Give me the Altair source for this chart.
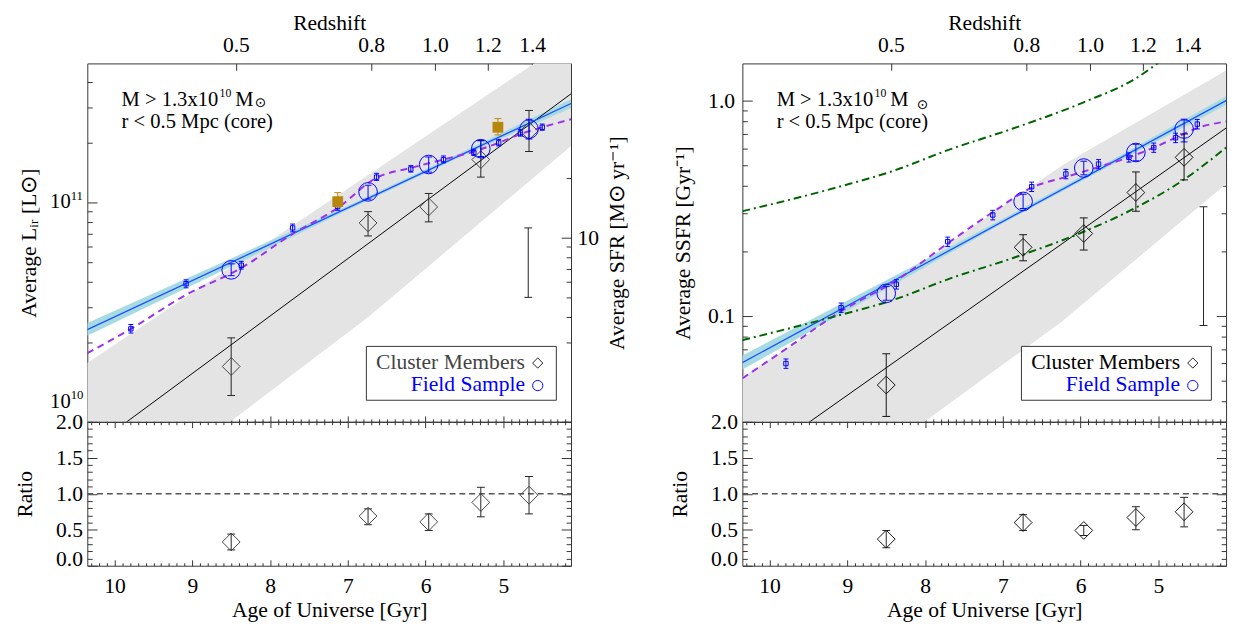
import altair as alt
import pandas as pd

FONT = "Liberation Serif"
FS = 22
W, H, HR = 494, 366, 147

BLUE = "#0000ff"
LINEBLUE = "#1f4fff"
CYAN = "#a6dbe3"
GRAY = "#e4e4e4"
PURPLE = "#9b30f0"
GREEN = "#006400"
BROWN = "#b8860b"

# ---------------- tick values ----------------
z_tick_age = [8.44, 6.70, 5.88, 5.20, 4.63]
z_tick_lab = ["0.5", "0.8", "1.0", "1.2", "1.4"]
age_major = [10, 9, 8, 7, 6, 5]
age_minor = [round(k / 10, 1) for k in range(42, 104) if k % 10 != 0]
lir_major = [1e10, 1e11]
lir_major_base = ["10", "10"]
lir_major_exp = ["10", "11"]
lir_minor = [8e9, 9e9, 2e10, 3e10, 4e10, 5e10, 6e10, 7e10, 8e10, 9e10, 2e11, 3e11, 4e11]
sfr_major = [10]
sfr_minor = [3, 4, 5, 6, 7, 8, 9, 20, 30, 40, 50, 60, 70]
LIR_PER_SFR = 6.67e9
ssfr_major = [0.1, 1.0]
ssfr_minor = [0.04, 0.05, 0.06, 0.07, 0.08, 0.09, 0.2, 0.3, 0.4, 0.5, 0.6, 0.7, 0.8, 0.9]
ratio_major = [0.0, 0.5, 1.0, 1.5, 2.0]
ratio_minor = [0.1, 0.2, 0.3, 0.4, 0.6, 0.7, 0.8, 0.9, 1.1, 1.2, 1.3, 1.4, 1.6, 1.7, 1.8, 1.9]

# ---------------- data: shared ages ----------------
bin_age = [8.50, 6.74, 5.96, 5.29, 4.67]
fine_age = [9.79, 9.08, 8.37, 7.71, 7.13, 6.63, 6.19, 5.77, 5.38, 5.06, 4.78, 4.50]

# ---------------- left panel: L_IR ----------------
field_lir = [4.6e10, 1.13e11, 1.55e11, 1.86e11, 2.33e11]
field_lir_lo = [4.3e10, 1.04e11, 1.42e11, 1.70e11, 2.08e11]
field_lir_hi = [4.93e10, 1.22e11, 1.69e11, 2.04e11, 2.61e11]
clus_lir = [1.51e10, 7.9e10, 9.5e10, 1.64e11, 2.28e11]
clus_lir_lo = [1.08e10, 6.8e10, 8.0e10, 1.34e11, 1.80e11]
clus_lir_hi = [2.1e10, 9.0e10, 1.11e11, 2.04e11, 2.89e11]
fine_lir = [2.33e10, 3.92e10, 4.85e10, 7.46e10, 9.55e10, 1.34e11, 1.47e11, 1.64e11, 1.78e11, 1.99e11, 2.23e11, 2.38e11]
fine_lir_lo = [2.22e10, 3.74e10, 4.64e10, 7.13e10, 9.14e10, 1.29e11, 1.42e11, 1.58e11, 1.72e11, 1.92e11, 2.15e11, 2.30e11]
fine_lir_hi = [2.45e10, 4.10e10, 5.07e10, 7.80e10, 9.98e10, 1.40e11, 1.53e11, 1.71e11, 1.85e11, 2.07e11, 2.32e11, 2.47e11]
purple_age = [10.35, 9.79, 9.08, 8.37, 7.71, 7.13, 6.63, 6.19, 5.77, 5.38, 5.06, 4.78, 4.50, 4.13]
purple_lir = [1.76e10, 2.33e10, 3.45e10, 4.7e10, 6.96e10, 9.4e10, 1.33e11, 1.49e11, 1.64e11, 1.80e11, 1.99e11, 2.2e11, 2.38e11, 2.61e11]
blue_age = [10.35, 4.13]
blue_lir = [2.31e10, 3.13e11]
cyan_age = [10.35, 8.5, 7.0, 5.5, 4.13]
cyan_lir_lo = [2.15e10, 4.78e10, 9.17e10, 1.73e11, 2.97e11]
cyan_lir_hi = [2.49e10, 5.25e10, 9.62e10, 1.81e11, 3.29e11]
black_age = [10.35, 4.13]
black_lir = [5.7e9, 3.5e11]
grayb_age = [10.35, 8.51, 6.72, 4.13]
grayb_lir_lo = [2.1e9, 8.0e9, 2.7e10, 1.92e11]
grayb_lir_hi = [1.57e10, 4.74e10, 1.39e11, 6.6e11]
brown_age = [7.13, 5.07]
brown_lir = [1.01e11, 2.38e11]
brown_lir_lo = [9.5e10, 2.18e11]
brown_lir_hi = [1.12e11, 2.63e11]
sys_lir_age = [4.68]
sys_lir_lo = [3.35e10]
sys_lir_hi = [7.46e10]

# ---------------- right panel: SSFR ----------------
field_ssfr = [0.127, 0.340, 0.486, 0.574, 0.738]
field_ssfr_lo = [0.118, 0.315, 0.452, 0.525, 0.643]
field_ssfr_hi = [0.137, 0.367, 0.523, 0.627, 0.82]
clus_ssfr = [0.0476, 0.208, 0.241, 0.374, 0.545]
clus_ssfr_lo = [0.034, 0.180, 0.202, 0.306, 0.428]
clus_ssfr_hi = [0.0665, 0.238, 0.285, 0.466, 0.70]
fine_ssfr = [0.0599, 0.109, 0.140, 0.221, 0.294, 0.398, 0.456, 0.507, 0.545, 0.605, 0.672, 0.778]
fine_ssfr_lo = [0.0569, 0.1036, 0.133, 0.210, 0.279, 0.378, 0.433, 0.482, 0.518, 0.575, 0.638, 0.739]
fine_ssfr_hi = [0.0629, 0.1145, 0.147, 0.232, 0.309, 0.418, 0.479, 0.532, 0.572, 0.635, 0.706, 0.817]
purple_ssfr = [0.0511, 0.070, 0.105, 0.146, 0.217, 0.303, 0.394, 0.442, 0.491, 0.545, 0.605, 0.672, 0.746, 0.80]
blue_ssfr = [0.0605, 1.0]
cyan_ssfr_lo = [0.0562, 0.133, 0.269, 0.526, 0.955]
cyan_ssfr_hi = [0.0652, 0.146, 0.282, 0.555, 1.047]
black_ssfr = [0.0193, 0.746]
grayb_s_age = [10.35, 8.0, 6.24, 4.13]
grayb_ssfr_lo = [0.0072, 0.0323, 0.094, 0.41]
grayb_ssfr_hi = [0.052, 0.182, 0.50, 1.38]
green_lo_age = [10.35, 9.08, 8.42, 7.7, 6.88, 5.97, 5.29, 4.67, 4.13]
green_lo = [0.077, 0.101, 0.118, 0.148, 0.185, 0.245, 0.318, 0.43, 0.605]
green_hi_age = [10.35, 9.08, 8.42, 7.7, 6.88, 5.97, 5.29, 4.90]
green_hi = [0.306, 0.40, 0.47, 0.59, 0.74, 0.98, 1.27, 1.6]
sys_ssfr_age = [4.42]
sys_ssfr_lo = [0.090]
sys_ssfr_hi = [0.321]

# ---------------- ratios ----------------
ratio_l = [0.33, 0.69, 0.61, 0.88, 0.98]
ratio_l_lo = [0.22, 0.57, 0.49, 0.68, 0.72]
ratio_l_hi = [0.44, 0.79, 0.72, 1.09, 1.24]
ratio_r = [0.37, 0.60, 0.49, 0.67, 0.75]
ratio_r_lo = [0.25, 0.49, 0.42, 0.50, 0.54]
ratio_r_hi = [0.49, 0.71, 0.56, 0.82, 0.95]

# ---------------- scales ----------------
XS = alt.Scale(domain=[4.13, 10.35], reverse=True, nice=False, zero=False)
YL = alt.Scale(type="log", domain=[7.98e9, 4.97e11], nice=False)
YS = alt.Scale(type="log", domain=[0.0321, 1.49], nice=False)
YR = alt.Scale(type="linear", domain=[0.0, 2.0], nice=False, zero=False)

ONE = pd.DataFrame({"a": [0]})


def X(f):
    return alt.X(f"{f}:Q", scale=XS, axis=None)


def Y(f, s):
    return alt.Y(f"{f}:Q", scale=s, axis=None)


def area(age, lo, hi, s, color):
    d = pd.DataFrame({"age": age, "lo": lo, "hi": hi})
    return alt.Chart(d).mark_area(color=color, clip=True, opacity=1).encode(
        x=X("age"), y=Y("lo", s), y2=alt.Y2("hi"))


def line(age, v, s, color, width=1.0, dash=None, interp="linear"):
    d = pd.DataFrame({"age": age, "v": v})
    m = dict(color=color, strokeWidth=width, clip=True, interpolate=interp)
    if dash:
        m["strokeDash"] = dash
    return alt.Chart(d).mark_line(**m).encode(x=X("age"), y=Y("v", s))


def errbar(age, lo, hi, s, color, cap, width=1.0):
    d = pd.DataFrame({"age": age, "lo": lo, "hi": hi})
    c = pd.DataFrame({"age": list(age) + list(age), "v": list(lo) + list(hi)})
    return [
        alt.Chart(d).mark_rule(color=color, strokeWidth=width, opacity=1).encode(
            x=X("age"), y=Y("lo", s), y2=alt.Y2("hi")),
        alt.Chart(c).mark_tick(color=color, orient="horizontal", size=cap,
                               thickness=width, opacity=1).encode(x=X("age"), y=Y("v", s)),
    ]


def pts(age, v, s, shape, color, size, filled=False, width=1.0):
    d = pd.DataFrame({"age": age, "v": v})
    return alt.Chart(d).mark_point(shape=shape, color=color, size=size, filled=filled,
                                   strokeWidth=width, opacity=1).encode(x=X("age"), y=Y("v", s))


def txt(s, x, y, color="black", align="left", size=FS, font=FONT):
    return alt.Chart(ONE).mark_text(text=s, font=font, fontSize=size, color=color, align=align,
                                    baseline="middle").encode(x=alt.value(x), y=alt.value(y))


def sym(shape, color, x, y, size=110):
    return alt.Chart(ONE).mark_point(shape=shape, color=color, size=size, filled=False,
                                     strokeWidth=1, opacity=1).encode(x=alt.value(x), y=alt.value(y))


def legend(clus_color):
    box = alt.Chart(ONE).mark_rect(fill="white", stroke="#333", strokeWidth=1).encode(
        x=alt.value(285), x2=alt.value(479), y=alt.value(289), y2=alt.value(344))
    return [box,
            txt("Cluster Members", 447, 305, clus_color, "right"),
            txt("Field Sample", 447, 328, BLUE, "right"),
            sym("diamond", "#222", 460, 306),
            sym("circle", BLUE, 460, 329)]


def mass_label(sun_dx, sun_dy):
    # "M > 1.3x10^10 M_sun" built from pieces (superscript exponent, small sun symbol)
    return [
        txt("M > 1.3x10", 35, 37, size=21),
        txt("10", 135, 30, size=12),
        txt("M", 151, 37, size=21),
        txt("\u2299", 151 + sun_dx, 37 + sun_dy, size=14, font="DejaVu Sans"),
        txt("r < 0.5 Mpc (core)", 35, 60, size=21),
    ]


def xax(values, s, **kw):
    d = pd.DataFrame({"age": values, "v": [s.domain[1]] * len(values)})
    a = dict(values=values, domain=False, grid=False, title=None, tickColor="#333", tickWidth=1)
    a.update(kw)
    return alt.Chart(d).mark_point(opacity=0, size=1).encode(
        x=alt.X("age:Q", scale=XS, axis=alt.Axis(**a)), y=Y("v", s))


def yax(values, s, **kw):
    d = pd.DataFrame({"v": values, "age": [7.0] * len(values)})
    a = dict(values=values, domain=False, grid=False, title=None, tickColor="#333", tickWidth=1)
    a.update(kw)
    return alt.Chart(d).mark_point(opacity=0, size=1).encode(
        x=X("age"), y=alt.Y("v:Q", scale=s, axis=alt.Axis(**a)))


zexpr = ("[" + ",".join(f"'{l}'" for l in z_tick_lab) + "][indexof(["
         + ",".join(str(a) for a in z_tick_age) + "], datum.value)]")


def top_x_axes(s):
    return [
        xax(z_tick_age, s, orient="top", ticks=False, labelExpr=zexpr, title="Redshift",
            labelPadding=7, titlePadding=0),
        xax(z_tick_age, s, orient="bottom", offset=-H, labels=False, tickSize=7),
        xax(age_major, s, orient="top", offset=-H, labels=False, tickSize=6),
        xax(age_minor, s, orient="top", offset=-H, labels=False, tickSize=3),
    ]


# power-of-ten tick labels for the L_IR axis (base + superscript)
pow_df = pd.DataFrame({"v": lir_major, "base": lir_major_base, "exp": lir_major_exp})
pow_base = alt.Chart(pow_df).mark_text(font=FONT, fontSize=21, align="right", baseline="middle",
                                       color="black").encode(
    x=alt.value(-17), y=Y("v", YL), text="base:N")
pow_exp = alt.Chart(pow_df).mark_text(font=FONT, fontSize=13, align="left", baseline="middle",
                                      color="black", dy=-7).encode(
    x=alt.value(-17), y=Y("v", YL), text="exp:N")

# ---------------- left main ----------------
left_layers = [
    area(grayb_age, grayb_lir_lo, grayb_lir_hi, YL, GRAY),
    area(cyan_age, cyan_lir_lo, cyan_lir_hi, YL, CYAN),
    line(black_age, black_lir, YL, "black", 1),
    line(blue_age, blue_lir, YL, LINEBLUE, 1.3),
    line(purple_age, purple_lir, YL, PURPLE, 2, [7, 5], "monotone"),
    *errbar(fine_age, fine_lir_lo, fine_lir_hi, YL, BLUE, 5),
    pts(fine_age, fine_lir, YL, "square", BLUE, 20),
    *errbar(brown_age, brown_lir_lo, brown_lir_hi, YL, BROWN, 7),
    pts(brown_age, brown_lir, YL, "square", BROWN, 121, filled=True),
    *errbar(bin_age, clus_lir_lo, clus_lir_hi, YL, "#222", 8),
    pts(bin_age, clus_lir, YL, "diamond", "#444", 330),
    *errbar(bin_age, field_lir_lo, field_lir_hi, YL, BLUE, 7),
    pts(bin_age, field_lir, YL, "circle", BLUE, 361),
    *errbar(sys_lir_age, sys_lir_lo, sys_lir_hi, YL, "#222", 8),
    *mass_label(20, 3),
    *legend("#444"),
    *top_x_axes(YL),
    pow_base, pow_exp,
    yax(lir_major, YL, orient="left", ticks=False, labels=False,
        title="Average L\u1d62\u1d63 [L\u2299]", titlePadding=48),
    yax(lir_major, YL, orient="right", offset=-W, labels=False, tickSize=10),
    yax(lir_minor, YL, orient="right", offset=-W, labels=False, tickSize=5),
    yax([v * LIR_PER_SFR for v in sfr_major], YL, orient="left", offset=-W, labels=False, tickSize=10),
    yax([v * LIR_PER_SFR for v in sfr_minor], YL, orient="left", offset=-W, labels=False, tickSize=5),
    yax([v * LIR_PER_SFR for v in sfr_major], YL, orient="right", ticks=False, labelExpr="'10'",
        title="Average SFR [M\u2299 yr\u207b\u00b9]", titleAngle=270, titleBaseline="top",
        labelPadding=6, titlePadding=9),
]
mainL = alt.layer(*left_layers).resolve_axis(x="independent", y="independent").properties(width=W, height=H)

# ---------------- right main ----------------
right_layers = [
    area(grayb_s_age, grayb_ssfr_lo, grayb_ssfr_hi, YS, GRAY),
    area(cyan_age, cyan_ssfr_lo, cyan_ssfr_hi, YS, CYAN),
    line(black_age, black_ssfr, YS, "black", 1),
    line(blue_age, blue_ssfr, YS, LINEBLUE, 1.3),
    line(purple_age, purple_ssfr, YS, PURPLE, 2, [7, 5], "monotone"),
    line(green_hi_age, green_hi, YS, GREEN, 2, [8, 4, 2, 4], "monotone"),
    line(green_lo_age, green_lo, YS, GREEN, 2, [8, 4, 2, 4], "monotone"),
    *errbar(fine_age, fine_ssfr_lo, fine_ssfr_hi, YS, BLUE, 5),
    pts(fine_age, fine_ssfr, YS, "square", BLUE, 20),
    *errbar(bin_age, clus_ssfr_lo, clus_ssfr_hi, YS, "#111", 8),
    pts(bin_age, clus_ssfr, YS, "diamond", "#111", 330),
    *errbar(bin_age, field_ssfr_lo, field_ssfr_hi, YS, BLUE, 7),
    pts(bin_age, field_ssfr, YS, "circle", BLUE, 361),
    *errbar(sys_ssfr_age, sys_ssfr_lo, sys_ssfr_hi, YS, "#222", 8),
    *mass_label(27, 6),
    *legend("black"),
    *top_x_axes(YS),
    yax(ssfr_major, YS, orient="left", ticks=False,
        labelExpr="datum.value < 0.5 ? '0.1' : '1.0'",
        title="Average SSFR [Gyr\u207b\u00b9]", labelPadding=8, titlePadding=14),
    yax(ssfr_major, YS, orient="right", offset=-W, labels=False, tickSize=10),
    yax(ssfr_minor, YS, orient="right", offset=-W, labels=False, tickSize=5),
    yax(ssfr_major, YS, orient="left", offset=-W, labels=False, tickSize=10),
    yax(ssfr_minor, YS, orient="left", offset=-W, labels=False, tickSize=5),
]
mainR = alt.layer(*right_layers).resolve_axis(x="independent", y="independent").properties(width=W, height=H)


# ---------------- ratio panels ----------------
def ratio_panel(vals, lo, hi, dcolor, title_pad):
    unity = pd.DataFrame({"v": [1.0, 1.0], "age": [4.13, 10.35]})
    layers = [
        alt.Chart(unity).mark_line(color="#555", strokeWidth=1.5, strokeDash=[6, 4]).encode(
            x=X("age"), y=Y("v", YR)),
        *errbar(bin_age, lo, hi, YR, "#222", 8),
        pts(bin_age, vals, YR, "diamond", dcolor, 330),
        xax(age_major, YR, orient="bottom", ticks=False, format="d", title="Age of Universe [Gyr]",
            labelPadding=10, titlePadding=4),
        xax(age_major, YR, orient="top", offset=-HR, labels=False, tickSize=6),
        xax(age_minor, YR, orient="top", offset=-HR, labels=False, tickSize=3),
        xax(age_major, YR, orient="bottom", offset=-HR, labels=False, tickSize=6),
        xax(age_minor, YR, orient="bottom", offset=-HR, labels=False, tickSize=3),
        yax([0.5, 1.0, 1.5, 2.0], YR, orient="left", ticks=False, format=".1f", title="Ratio",
            labelPadding=5, titlePadding=title_pad),
        yax([0.0], YR, orient="left", ticks=False, format=".1f", labelBaseline="alphabetic",
            labelPadding=5),
        yax(ratio_major, YR, orient="right", offset=-W, labels=False, tickSize=10),
        yax(ratio_minor, YR, orient="right", offset=-W, labels=False, tickSize=5),
        yax(ratio_major, YR, orient="left", offset=-W, labels=False, tickSize=10),
        yax(ratio_minor, YR, orient="left", offset=-W, labels=False, tickSize=5),
    ]
    return alt.layer(*layers).resolve_axis(x="independent", y="independent").properties(width=W, height=HR)


ratioL = ratio_panel(ratio_l, ratio_l_lo, ratio_l_hi, "#444", 20)
ratioR = ratio_panel(ratio_r, ratio_r_lo, ratio_r_hi, "#111", 20)

colL = alt.vconcat(mainL, ratioL, spacing=0, bounds="flush")
colR = alt.vconcat(mainR, ratioR, spacing=0, bounds="flush")

chart = alt.hconcat(colL, colR, spacing=40).properties(
    padding={"left": 5, "top": -4, "right": 0, "bottom": 0}
).configure_axis(
    labelFont=FONT, titleFont=FONT, labelFontSize=FS, titleFontSize=FS,
    titleFontWeight="normal", labelColor="black", titleColor="black",
    labelOverlap=False, grid=False
).configure_view(stroke="#333", strokeWidth=1)

chart.save("out.html", embed_options={"renderer": "svg", "actions": False})
